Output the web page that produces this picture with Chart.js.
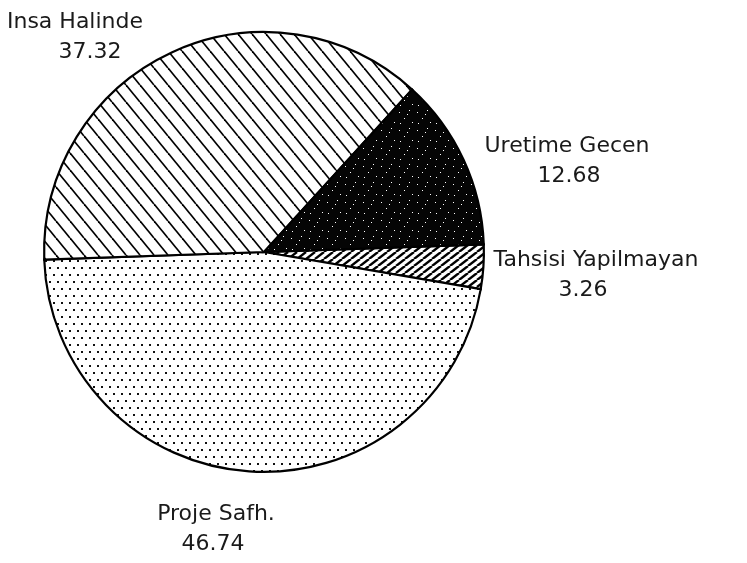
<!DOCTYPE html>
<html lang="tr">
<head>
    <meta charset="UTF-8">
    <title>Pay Dagilimi</title>
    <script src="https://cdn.jsdelivr.net/npm/chart.js"></script>
    <style>
        body { margin: 0; background: #ffffff; }
        #wrap { width: 747px; height: 563px; }
    </style>
</head>
<body>
<div id="wrap"><canvas id="pieChart" width="747" height="563"></canvas></div>
<script>
    // slices go clockwise from the 3 o'clock line
    const categories = ['Tahsisi Yapilmayan', 'Proje Safh.', 'Insa Halinde', 'Uretime Gecen'];
    const shares = [3.26, 46.74, 37.32, 12.68];

    // label placement: centre x of name and of value, baseline y of the name line
    const labelSpots = [
        { x: 596, vx: 583, y: 266 },
        { x: 216, vx: 213, y: 520 },
        { x: 75, vx: 90, y: 28 },
        { x: 567, vx: 569, y: 152 }
    ];

    function tile(w, h, paint) {
        let c = document.createElement('canvas');
        c.width = w;
        c.height = h;
        let g = c.getContext('2d');
        g.fillStyle = '#ffffff';
        g.fillRect(0, 0, w, h);
        paint(g, w, h);
        return document.getElementById('pieChart').getContext('2d').createPattern(c, 'repeat');
    }

    // "\\\" hatching
    function backHatch(w, h, lw) {
        return tile(w, h, (g) => {
            g.strokeStyle = '#000';
            g.lineWidth = lw;
            for (let k = -1; k <= 1; k++) {
                g.beginPath();
                g.moveTo(k * w, 0);
                g.lineTo(k * w + w, h);
                g.stroke();
            }
        });
    }

    // "///" hatching
    function fwdHatch(w, h, lw) {
        return tile(w, h, (g) => {
            g.strokeStyle = '#000';
            g.lineWidth = lw;
            for (let k = -1; k <= 1; k++) {
                g.beginPath();
                g.moveTo(k * w, h);
                g.lineTo(k * w + w, 0);
                g.stroke();
            }
        });
    }

    function dots() {
        return tile(8, 14, (g) => {
            g.fillStyle = '#111';
            g.fillRect(1, 1, 2, 2);
            g.fillRect(5, 8, 2, 2);
        });
    }

    function darkSpeckle() {
        return tile(18, 18, (g) => {
            g.fillStyle = '#050505';
            g.fillRect(0, 0, 18, 18);
            g.fillStyle = '#ffffff';
            [[3, 4], [13, 2], [8, 10], [16, 14], [4, 15], [11, 6]].forEach(p => g.fillRect(p[0], p[1], 1, 1));
        });
    }

    const fills = [fwdHatch(9, 7, 2.4), dots(), backHatch(14, 17, 1.7), darkSpeckle()];

    const sliceLabels = {
        id: 'sliceLabels',
        afterDraw(chart) {
            let c = chart.ctx;
            c.save();
            c.fillStyle = '#1a1a1a';
            c.font = '22px "DejaVu Sans"';
            c.textAlign = 'center';
            c.textBaseline = 'alphabetic';
            categories.forEach((name, i) => {
                let p = labelSpots[i];
                c.fillText(name, p.x, p.y);
                c.fillText(shares[i].toFixed(2), p.vx, p.y + 30);
            });
            c.restore();
        }
    };

    new Chart(document.getElementById('pieChart'), {
        type: 'pie',
        data: {
            labels: categories,
            datasets: [{
                data: shares,
                backgroundColor: fills,
                borderColor: '#000',
                borderWidth: 2.2,
                borderJoinStyle: 'miter'
            }]
        },
        options: {
            responsive: false,
            animation: false,
            rotation: 88,
            layout: { padding: { left: 43, right: 262, top: 31, bottom: 90 } },
            plugins: {
                legend: { display: false },
                tooltip: { enabled: false }
            }
        },
        plugins: [sliceLabels]
    });
</script>
</body>
</html>
